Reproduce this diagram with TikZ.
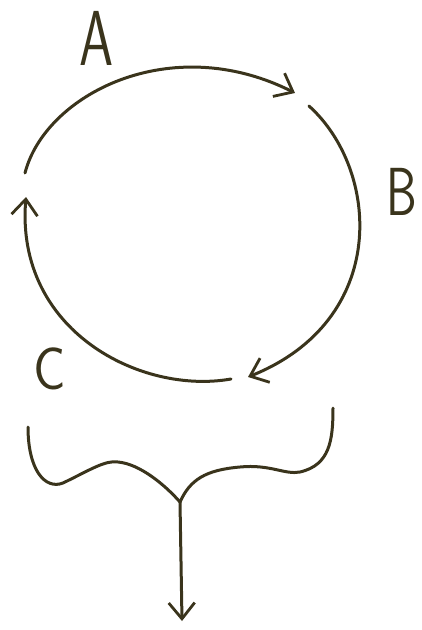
\documentclass[tikz,border=0pt]{standalone}
\usepackage{fontspec}
\usepackage{graphicx}
\usepackage{tikz}
\usetikzlibrary{arrows.meta}
\definecolor{InkBrown}{RGB}{58,52,28}
\newcommand{\narrowtext}[2]{\scalebox{#1}[1]{#2}}

\begin{document}
\begin{tikzpicture}[
    x=1pt, y=-1pt,
    every node/.style={font=\sffamily, text=InkBrown, inner sep=0pt},
    sketch/.style={draw=InkBrown, line width=3pt, line cap=round, line join=round},
    flow/.style={sketch, -{Straight Barb[length=16pt, width=26pt, line width=2.8pt]}},
]
\useasboundingbox (0,0) rectangle (422,630);

% labels
\node[font=\sffamily\fontsize{78}{78}\selectfont] (labelA) at (97,38) {\narrowtext{0.7}{A}};
\node[font=\sffamily\fontsize{68}{68}\selectfont] (labelB) at (402,192) {\narrowtext{0.72}{B}};
\node[font=\sffamily\fontsize{60}{60}\selectfont] (labelC) at (50,369) {\narrowtext{0.9}{C}};

% ends of the cycle arcs
\coordinate (aStart) at (25,173);
\coordinate (aEnd)   at (295,93);
\coordinate (bStart) at (309,106);
\coordinate (bEnd)   at (248,377);
\coordinate (cStart) at (231,379);
\coordinate (cEnd)   at (26,197);

% cycle
\draw[flow] (aStart) .. controls (45,95) and (170,30) .. (aEnd);
\draw[flow] (bStart) .. controls (380,170) and (390,320) .. (bEnd);
\draw[flow] (cStart) .. controls (140,395) and (15,330) .. (cEnd);

% brace
\coordinate (braceLeft)  at (28,427);
\coordinate (braceRight) at (333,408);
\coordinate (braceTip)   at (180,502);
\coordinate (outEnd)     at (182,621);

\draw[sketch] (braceLeft) .. controls (28,470) and (45,490) .. (63,483)
    .. controls (90,470) and (105,460) .. (118,462)
    .. controls (140,464) and (165,485) .. (braceTip);
\draw[sketch] (braceTip) .. controls (190,480) and (205,470) .. (240,467)
    .. controls (270,464) and (285,475) .. (300,472)
    .. controls (330,465) and (333,440) .. (braceRight);
\draw[flow] (braceTip) -- (outEnd);
\end{tikzpicture}
\end{document}
